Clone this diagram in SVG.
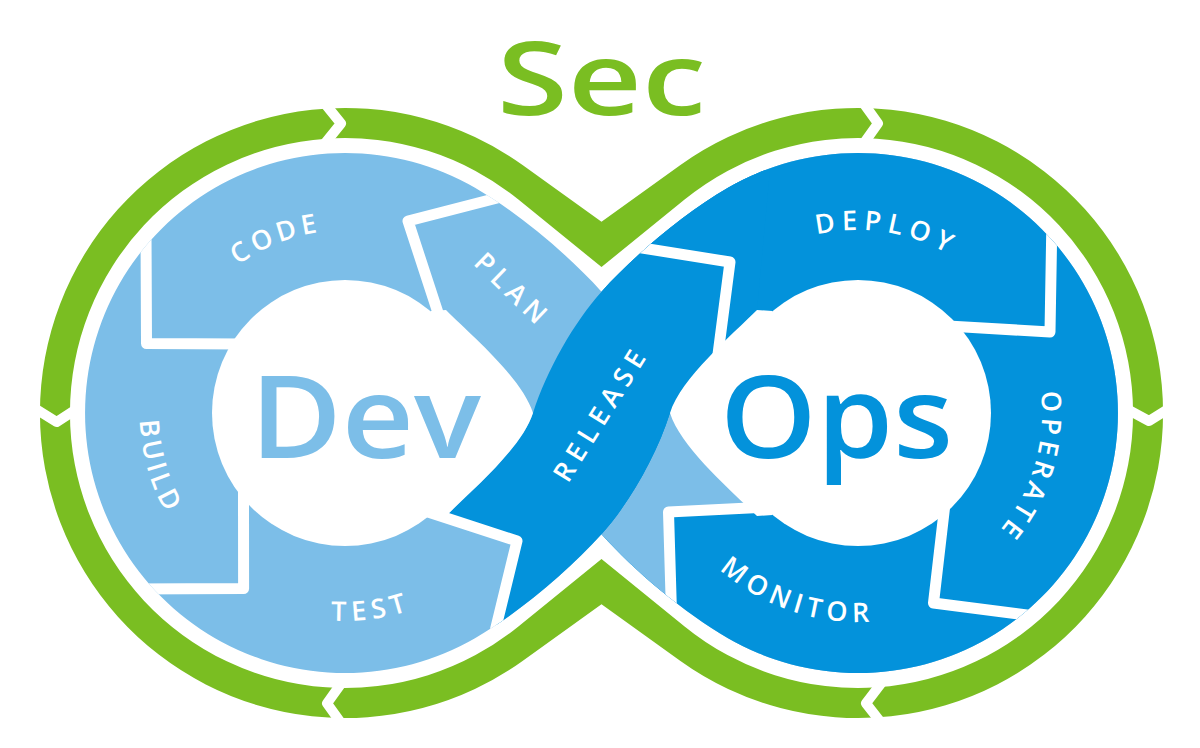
<svg xmlns="http://www.w3.org/2000/svg" width="1200" height="748" viewBox="0 0 1200 748">
<style>
.lb{fill:#7CBEE8}
.db{fill:#0392DB}
.gr{fill:#7ABE22}
.wh{fill:#FFFFFF}
.gap{fill:none;stroke:#FFFFFF;stroke-width:11;stroke-linejoin:round;stroke-linecap:butt}
.chev{fill:none;stroke:#FFFFFF;stroke-width:10;stroke-linejoin:round;stroke-linecap:butt}
.lbl{font-family:"Open Sans","Liberation Sans",sans-serif;font-size:27px;font-weight:600;fill:#FFFFFF;letter-spacing:5px}
.big{font-family:"Open Sans","Liberation Sans",sans-serif;font-weight:600}
</style>
<defs>
<clipPath id="eight"><path d="M601.5,291.7 C635,254.5 684.7,212.8 728,187.8 A260,260 0 1 1 728,638.2 C684.7,613.2 635,571.5 601.5,534.3 C568,571.5 518.3,613.2 475,638.2 A260,260 0 1 1 475,187.8 C518.3,212.8 568,254.5 601.5,291.7 Z"/></clipPath>
<path id="pCode" d="M164,386.4 A183,183 0 0 1 458.9,270.2"/>
<path id="pBuild" d="M197.1,270.7 A205,205 0 0 0 295.4,611.9"/>
<path id="pTest" d="M180.2,539.8 A208,208 0 0 0 537.3,492.2"/>
<path id="pDeploy" d="M715.8,297.8 A183,183 0 0 1 1028.8,347.4"/>
<path id="pOperate" d="M992.6,287.5 A184,184 0 0 1 899.4,592.3"/>
<path id="pMonitor" d="M653.3,455 A209,209 0 0 0 996.7,569.3"/>
</defs>
<rect width="1200" height="748" fill="#FFFFFF"/>
<g id="sec-ring">
<path class="gr" d="M601.5,221.7 L680.1,165.3 A305,305 0 1 1 680.1,660.7 L601.5,604.3 L522.9,660.7 A305,305 0 1 1 522.9,165.3 Z"/>
<path class="wh" d="M601.5,267 L684.6,199.6 A275,275 0 1 1 684.6,626.4 L601.5,559 L518.4,626.4 A275,275 0 1 1 518.4,199.6 Z"/>
</g>
<g id="connectors">
<polyline class="chev" points="322,100 341,123.5 322,147"/>
<polyline class="chev" points="343.7,680 327,703.3 343.7,726.6"/>
<polyline class="chev" points="31,406 56.7,422 79,407.5"/>
<polyline class="chev" points="861.2,100 878,123.3 861.2,147"/>
<polyline class="chev" points="884.5,679 866,703.3 884.5,727"/>
<polyline class="chev" points="1124,407.5 1149,421 1173,406"/>
</g>
<g id="loop" clip-path="url(#eight)">
<rect class="lb" x="0" y="0" width="1200" height="748"/>
<rect class="db" x="601.5" y="0" width="600" height="748"/>
<path class="lb" d="M670,413 C656.5,455.9 628.3,504.6 601.5,534.3 L601.5,700 L669,700 L669,512 L770,512 L770,413 Z"/>
<path id="release" class="db" d="M425,511 L517,541 L485,670 L601.5,640 L601.5,534.3 C628.3,504.6 656.5,455.9 670,413 C681,378 732.3,334.7 757,310 L770,170 L601.5,170 L601.5,291.7 C574.7,321.4 546.5,370.1 533,413 C522,448 470.7,491.3 446,516 Z"/>
<g id="dev-core">
<circle class="wh" cx="345" cy="413" r="133"/>
<path class="wh" d="M430.5,514.9 L446,516 C470.7,491.3 522,448 533,413 C522,378 470.7,334.7 446,310 L430.5,311.1 Z"/>
</g>
<g id="ops-core">
<circle class="wh" cx="858" cy="413" r="133"/>
<path class="wh" d="M772.5,514.9 L757,516 C732.3,491.3 681,448 670,413 C681,378 732.3,334.7 757,310 L772.5,311.1 Z"/>
</g>
<polyline class="gap" points="505,196 408,221 442,325"/>
<polyline class="gap" points="146,230 146.5,343.5 245,344"/>
<polyline class="gap" points="243.5,485 243.6,588.5 130,589"/>
<polyline class="gap" points="425,511 517,541 488,660"/>
<polyline class="gap" points="620,244.5 730,262 717,362"/>
<polyline class="gap" points="1052,215 1050,332 948,326"/>
<polyline class="gap" points="946,495 933.5,603 1050,618"/>
<polyline class="gap" points="672,630 668.5,512 768,507"/>
</g>
<g id="labels">
<g id="code"><text class="lbl" style="letter-spacing:4.7px"><textPath href="#pCode" startOffset="50%" text-anchor="middle">CODE</textPath></text></g>
<g id="plan"><text class="lbl" style="letter-spacing:6px" transform="translate(513,290) rotate(44)" y="9.5" text-anchor="middle">PLAN</text></g>
<g id="build"><text class="lbl" style="letter-spacing:4px"><textPath href="#pBuild" startOffset="50%" text-anchor="middle">BUILD</textPath></text></g>
<g id="test"><text class="lbl" style="letter-spacing:5.6px"><textPath href="#pTest" startOffset="50%" text-anchor="middle">TEST</textPath></text></g>
<g id="release-label"><text class="lbl" style="letter-spacing:6.5px" transform="translate(601,413) rotate(-58)" y="9.5" text-anchor="middle">RELEASE</text></g>
<g id="deploy"><text class="lbl" style="letter-spacing:6.2px"><textPath href="#pDeploy" startOffset="50%" text-anchor="middle">DEPLOY</textPath></text></g>
<g id="operate"><text class="lbl" style="letter-spacing:4.9px"><textPath href="#pOperate" startOffset="50%" text-anchor="middle">OPERATE</textPath></text></g>
<g id="monitor"><text class="lbl" style="letter-spacing:5.6px"><textPath href="#pMonitor" startOffset="50%" text-anchor="middle">MONITOR</textPath></text></g>
</g>
<g id="titles">
<text class="big" x="250" y="458" font-size="115" textLength="231" lengthAdjust="spacingAndGlyphs" fill="#7CBEE8">Dev</text>
<text class="big" x="720" y="458" font-size="115" textLength="233" lengthAdjust="spacingAndGlyphs" fill="#0392DB">Ops</text>
<text class="big" x="497" y="115" font-size="101" textLength="209" lengthAdjust="spacingAndGlyphs" fill="#7ABE22">Sec</text>
</g>
</svg>
